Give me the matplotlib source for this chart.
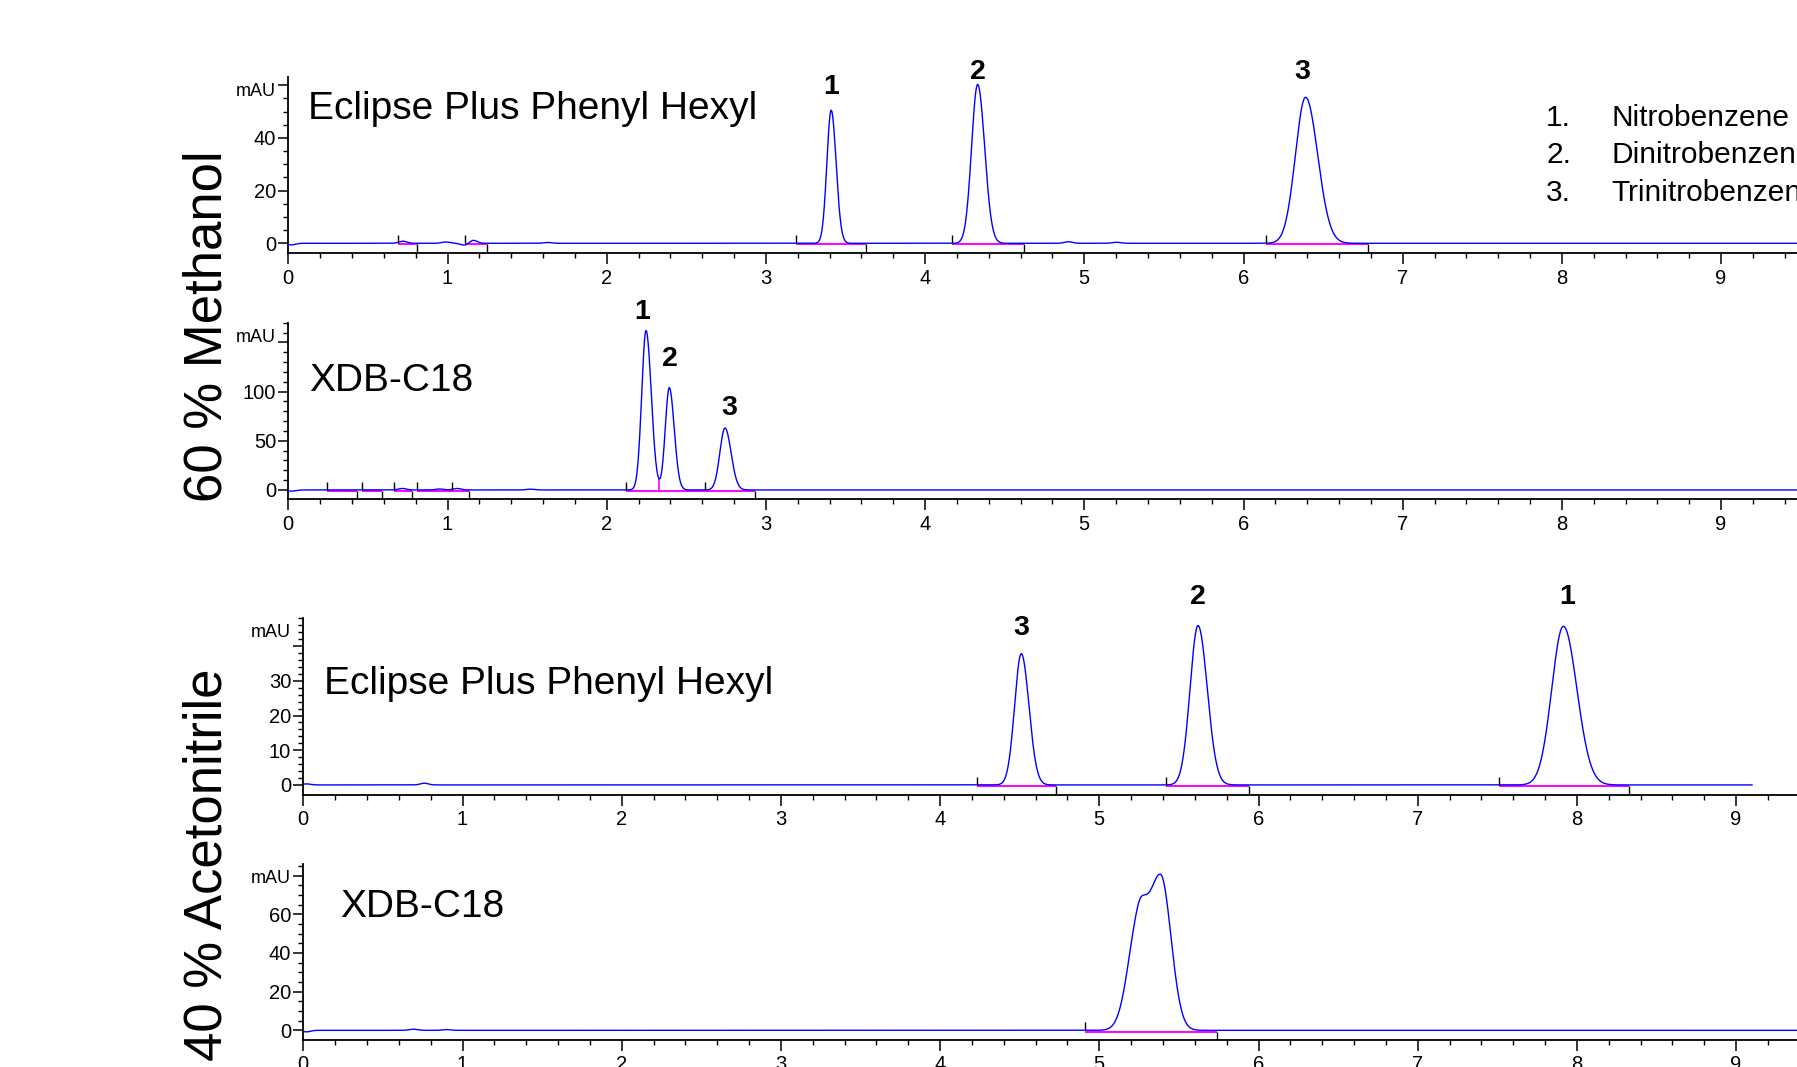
import numpy as np
import matplotlib
matplotlib.use("Agg")
import matplotlib.pyplot as plt
from matplotlib import font_manager as fm
from matplotlib.ticker import FixedLocator, NullFormatter, FixedFormatter, MultipleLocator

# ---------------- data ----------------
x_major = [0, 1, 2, 3, 4, 5, 6, 7, 8, 9]
group_labels = ["60 % Methanol", "40 % Acetonitrile"]
panel_titles = ["Eclipse Plus Phenyl Hexyl", "XDB-C18", "Eclipse Plus Phenyl Hexyl", "XDB-C18"]
legend_numbers = ["1.", "2.", "3."]
legend_names = ["Nitrobenzene", "Dinitrobenzene", "Trinitrobenzene"]

# Panel A : 60 % MeOH, Eclipse Plus Phenyl Hexyl
a_rt = [3.41, 4.33, 6.39]
a_height = [50.5, 60.3, 55.4]
a_sig_l = [0.027, 0.038, 0.064]
a_sig_r = [0.031, 0.044, 0.076]
a_small_rt = [0.02, 0.72, 0.99, 1.11, 1.16, 1.63, 4.90, 5.20]
a_small_h = [-0.6, 0.8, 0.5, -0.8, 1.2, 0.3, 0.6, 0.4]
a_peak_labels = ["1", "2", "3"]
a_label_x = [3.41, 4.33, 6.37]
a_label_y = [56.5, 62.4, 62.4]
a_int_up = [0.69, 1.11, 3.19, 4.17, 6.14]
a_int_down = [0.807, 1.25, 3.63, 4.62, 6.78]
a_yticks = [0, 20, 40, 60]
a_yticklabels = ["0", "20", "40", ""]
a_ylim = (-3.8, 63.0)
a_minor = 5

# Panel B : 60 % MeOH, XDB-C18
b_rt = [2.247, 2.393, 2.743]
b_height = [162, 104, 63]
b_sig_l = [0.027, 0.025, 0.032]
b_sig_r = [0.033, 0.031, 0.038]
b_small_rt = [0.02, 0.717, 0.95, 1.06, 1.52]
b_small_h = [-1.2, 1.5, 1.0, 1.5, 0.8]
b_peak_labels = ["1", "2", "3"]
b_label_x = [2.22, 2.40, 2.77]
b_label_y = [173.8, 125.8, 76.6]
b_int_up = [0.24, 0.465, 0.665, 0.81, 1.03, 2.12, 2.62]
b_int_down = [0.43, 0.59, 0.78, 1.136, 2.93]
b_drop = [2.33]
b_yticks = [0, 50, 100, 150]
b_yticklabels = ["0", "50", "100", ""]
b_ylim = (-9.5, 170.0)
b_minor = 10

# Panel C : 40 % MeCN, Eclipse Plus Phenyl Hexyl
c_rt = [4.51, 5.62, 7.915]
c_height = [37.8, 45.9, 45.7]
c_sig_l = [0.042, 0.050, 0.073]
c_sig_r = [0.048, 0.058, 0.085]
c_small_rt = [0.02, 0.76]
c_small_h = [0.3, 0.5]
c_peak_labels = ["3", "2", "1"]
c_label_x = [4.508, 5.62, 7.94]
c_label_y = [43.3, 52.2, 52.2]
c_int_up = [4.23, 5.42, 7.51]
c_int_down = [4.73, 5.94, 8.33]
c_yticks = [0, 10, 20, 30, 40]
c_yticklabels = ["0", "10", "20", "30", ""]
c_ylim = (-2.9, 48.0)
c_minor = 2
c_end = 9.1

# Panel D : 40 % MeCN, XDB-C18 (co-eluting peaks, shoulder + main)
d_rt = [5.24, 5.385]
d_height = [45, 80]
d_sig_l = [0.065, 0.085]
d_sig_r = [0.05, 0.065]
d_small_rt = [0.02, 0.69, 0.90]
d_small_h = [-0.8, 0.6, 0.4]
d_int_up = [4.91]
d_int_down = [5.74]
d_yticks = [0, 20, 40, 60, 80]
d_yticklabels = ["0", "20", "40", "60", ""]
d_ylim = (-5.0, 86.0)
d_minor = 5

# ---------------- fonts ----------------
def has_font(name):
    try:
        fm.findfont(fm.FontProperties(family=name), fallback_to_default=False)
        return True
    except Exception:
        return False

SANS = "Liberation Sans" if has_font("Liberation Sans") else "DejaVu Sans"
NARROW = "Liberation Sans Narrow" if has_font("Liberation Sans Narrow") else None
plt.rcParams["font.family"] = [SANS, "DejaVu Sans"]

# ---------------- layout (pixels) ----------------
W, H, DPI = 1797, 1067, 100
PX_PER_MIN = 159.2
XMAX = 10.6

fig = plt.figure(figsize=(W / DPI, H / DPI), dpi=DPI)
fig.patch.set_facecolor("white")


def make_axes(left_px, top_px, bottom_px):
    width_px = XMAX * PX_PER_MIN
    return fig.add_axes([left_px / W, 1 - bottom_px / H, width_px / W, (bottom_px - top_px) / H])


def bigauss(t, rt, h, sl, sr):
    s = np.where(t < rt, sl, sr)
    return h * np.exp(-0.5 * ((t - rt) / s) ** 2)


def trace(t, rts, hs, sls, srs, srt, sh):
    y = np.zeros_like(t)
    for rt, h, sl, sr in zip(rts, hs, sls, srs):
        y += bigauss(t, rt, h, sl, sr)
    for rt, h in zip(srt, sh):
        y += h * np.exp(-0.5 * ((t - rt) / 0.025) ** 2)
    return y


def style_axes(ax, ylim, yticks, yticklabels, minor):
    ax.set_xlim(0, XMAX)
    ax.set_ylim(*ylim)
    for s in ("top", "right"):
        ax.spines[s].set_visible(False)
    for s in ("left", "bottom"):
        ax.spines[s].set_linewidth(1.3)
    ax.xaxis.set_major_locator(FixedLocator(x_major))
    ax.xaxis.set_major_formatter(FixedFormatter([str(v) for v in x_major]))
    ax.xaxis.set_minor_locator(MultipleLocator(0.2))
    ax.yaxis.set_major_locator(FixedLocator(yticks))
    ax.yaxis.set_major_formatter(FixedFormatter(yticklabels))
    mins = [v for v in np.arange(0, ylim[1] + 1e-9, minor) if v not in yticks]
    ax.yaxis.set_minor_locator(FixedLocator(mins))
    ax.yaxis.set_minor_formatter(NullFormatter())
    ax.tick_params(axis="x", which="major", direction="out", length=8, width=1.1,
                   pad=3, labelsize=14.5)
    ax.tick_params(axis="x", which="minor", direction="out", length=3.6, width=1.0)
    ax.tick_params(axis="y", which="major", direction="out", length=7.2, width=1.1,
                   pad=1.5, labelsize=14.5)
    ax.tick_params(axis="y", which="minor", direction="out", length=3.6, width=1.0)
    ax.annotate("mAU", xy=(0, 1), xycoords="axes fraction", xytext=(-13, -14.5),
                textcoords="offset pixels", ha="right", va="center", fontsize=13)


def draw_integration(ax, ups, downs, segments, ylim_px_per_unit, drops=(), drop_vals=()):
    off = -1.2 / ylim_px_per_unit
    for a, b in segments:
        ax.plot([a, b], [off, off], color="#ff00ff", lw=1.4, zorder=2, solid_capstyle="butt")
    for x, v in zip(drops, drop_vals):
        ax.plot([x, x], [off, v], color="#ff00ff", lw=1.2, zorder=2)
    ax.plot(ups, [0] * len(ups), linestyle="none", marker=2, markersize=5.5,
            markeredgewidth=1.0, color="black", zorder=4)
    ax.plot(downs, [off] * len(downs), linestyle="none", marker=3, markersize=5.5,
            markeredgewidth=1.0, color="black", zorder=4)


# ---------------- panels ----------------
panels = [
    dict(left=288.3, top=77.3, bottom=253.3, ylim=a_ylim, yt=a_yticks, ytl=a_yticklabels, minor=a_minor,
         rt=a_rt, h=a_height, sl=a_sig_l, sr=a_sig_r, srt=a_small_rt, sh=a_small_h, end=XMAX,
         labels=a_peak_labels, lx=a_label_x, ly=a_label_y, up=a_int_up, down=a_int_down,
         seg=list(zip(a_int_up, a_int_down)), drops=[], title=panel_titles[0], tpos=(308.5, 119.3)),
    dict(left=288.3, top=322.7, bottom=499.3, ylim=b_ylim, yt=b_yticks, ytl=b_yticklabels, minor=b_minor,
         rt=b_rt, h=b_height, sl=b_sig_l, sr=b_sig_r, srt=b_small_rt, sh=b_small_h, end=XMAX,
         labels=b_peak_labels, lx=b_label_x, ly=b_label_y, up=b_int_up, down=b_int_down,
         seg=[(0.24, 0.43), (0.465, 0.59), (0.665, 0.78), (0.81, 1.03), (1.03, 1.136), (2.12, 2.93)],
         drops=b_drop, title=panel_titles[1], tpos=(309.5, 390.7)),
    dict(left=303.3, top=618.3, bottom=795.0, ylim=c_ylim, yt=c_yticks, ytl=c_yticklabels, minor=c_minor,
         rt=c_rt, h=c_height, sl=c_sig_l, sr=c_sig_r, srt=c_small_rt, sh=c_small_h, end=c_end,
         labels=c_peak_labels, lx=c_label_x, ly=c_label_y, up=c_int_up, down=c_int_down,
         seg=list(zip(c_int_up, c_int_down)), drops=[], title=panel_titles[2], tpos=(323.5, 694.0)),
    dict(left=303.3, top=864.0, bottom=1040.0, ylim=d_ylim, yt=d_yticks, ytl=d_yticklabels, minor=d_minor,
         rt=d_rt, h=d_height, sl=d_sig_l, sr=d_sig_r, srt=d_small_rt, sh=d_small_h, end=XMAX,
         labels=[], lx=[], ly=[], up=d_int_up, down=d_int_down,
         seg=list(zip(d_int_up, d_int_down)), drops=[], title=panel_titles[3], tpos=(340.0, 917.3)),
]

for p in panels:
    ax = make_axes(p["left"], p["top"], p["bottom"])
    style_axes(ax, p["ylim"], p["yt"], p["ytl"], p["minor"])
    t = np.linspace(0, p["end"], 8000)
    y = trace(t, p["rt"], p["h"], p["sl"], p["sr"], p["srt"], p["sh"])
    ppu = (p["bottom"] - p["top"]) / (p["ylim"][1] - p["ylim"][0])
    drop_vals = [float(np.interp(x, t, y)) for x in p["drops"]]
    draw_integration(ax, p["up"], p["down"], p["seg"], ppu, p["drops"], drop_vals)
    ax.plot(t, y, color="#0000ff", lw=1.0, zorder=3)
    for lab, lx, ly in zip(p["labels"], p["lx"], p["ly"]):
        ax.text(lx, ly, lab, ha="center", va="baseline", fontsize=20.5,
                fontweight="bold", clip_on=False)
    fig.text(p["tpos"][0] / W, 1 - p["tpos"][1] / H, p["title"], ha="left",
             va="baseline", fontsize=28)

# group labels
fig.text(207 / W, 1 - 326 / H, group_labels[0], rotation=90, ha="center", va="center", fontsize=38)
fig.text(207 / W, 1 - 865 / H, group_labels[1], rotation=90, ha="center", va="center", fontsize=38)

# compound legend
leg_font = dict(family=[NARROW, SANS], fontsize=25) if NARROW else dict(family=[SANS], fontsize=21.5)
leg_rows = [125.7, 163.3, 200.7]
for num, name, yb in zip(legend_numbers, legend_names, leg_rows):
    fig.text(1546.0 / W, 1 - yb / H, num, ha="left", va="baseline", **leg_font)
    fig.text(1611.0 / W, 1 - yb / H, name, ha="left", va="baseline", **leg_font)

fig.savefig("out.png", dpi=DPI, facecolor="white")
